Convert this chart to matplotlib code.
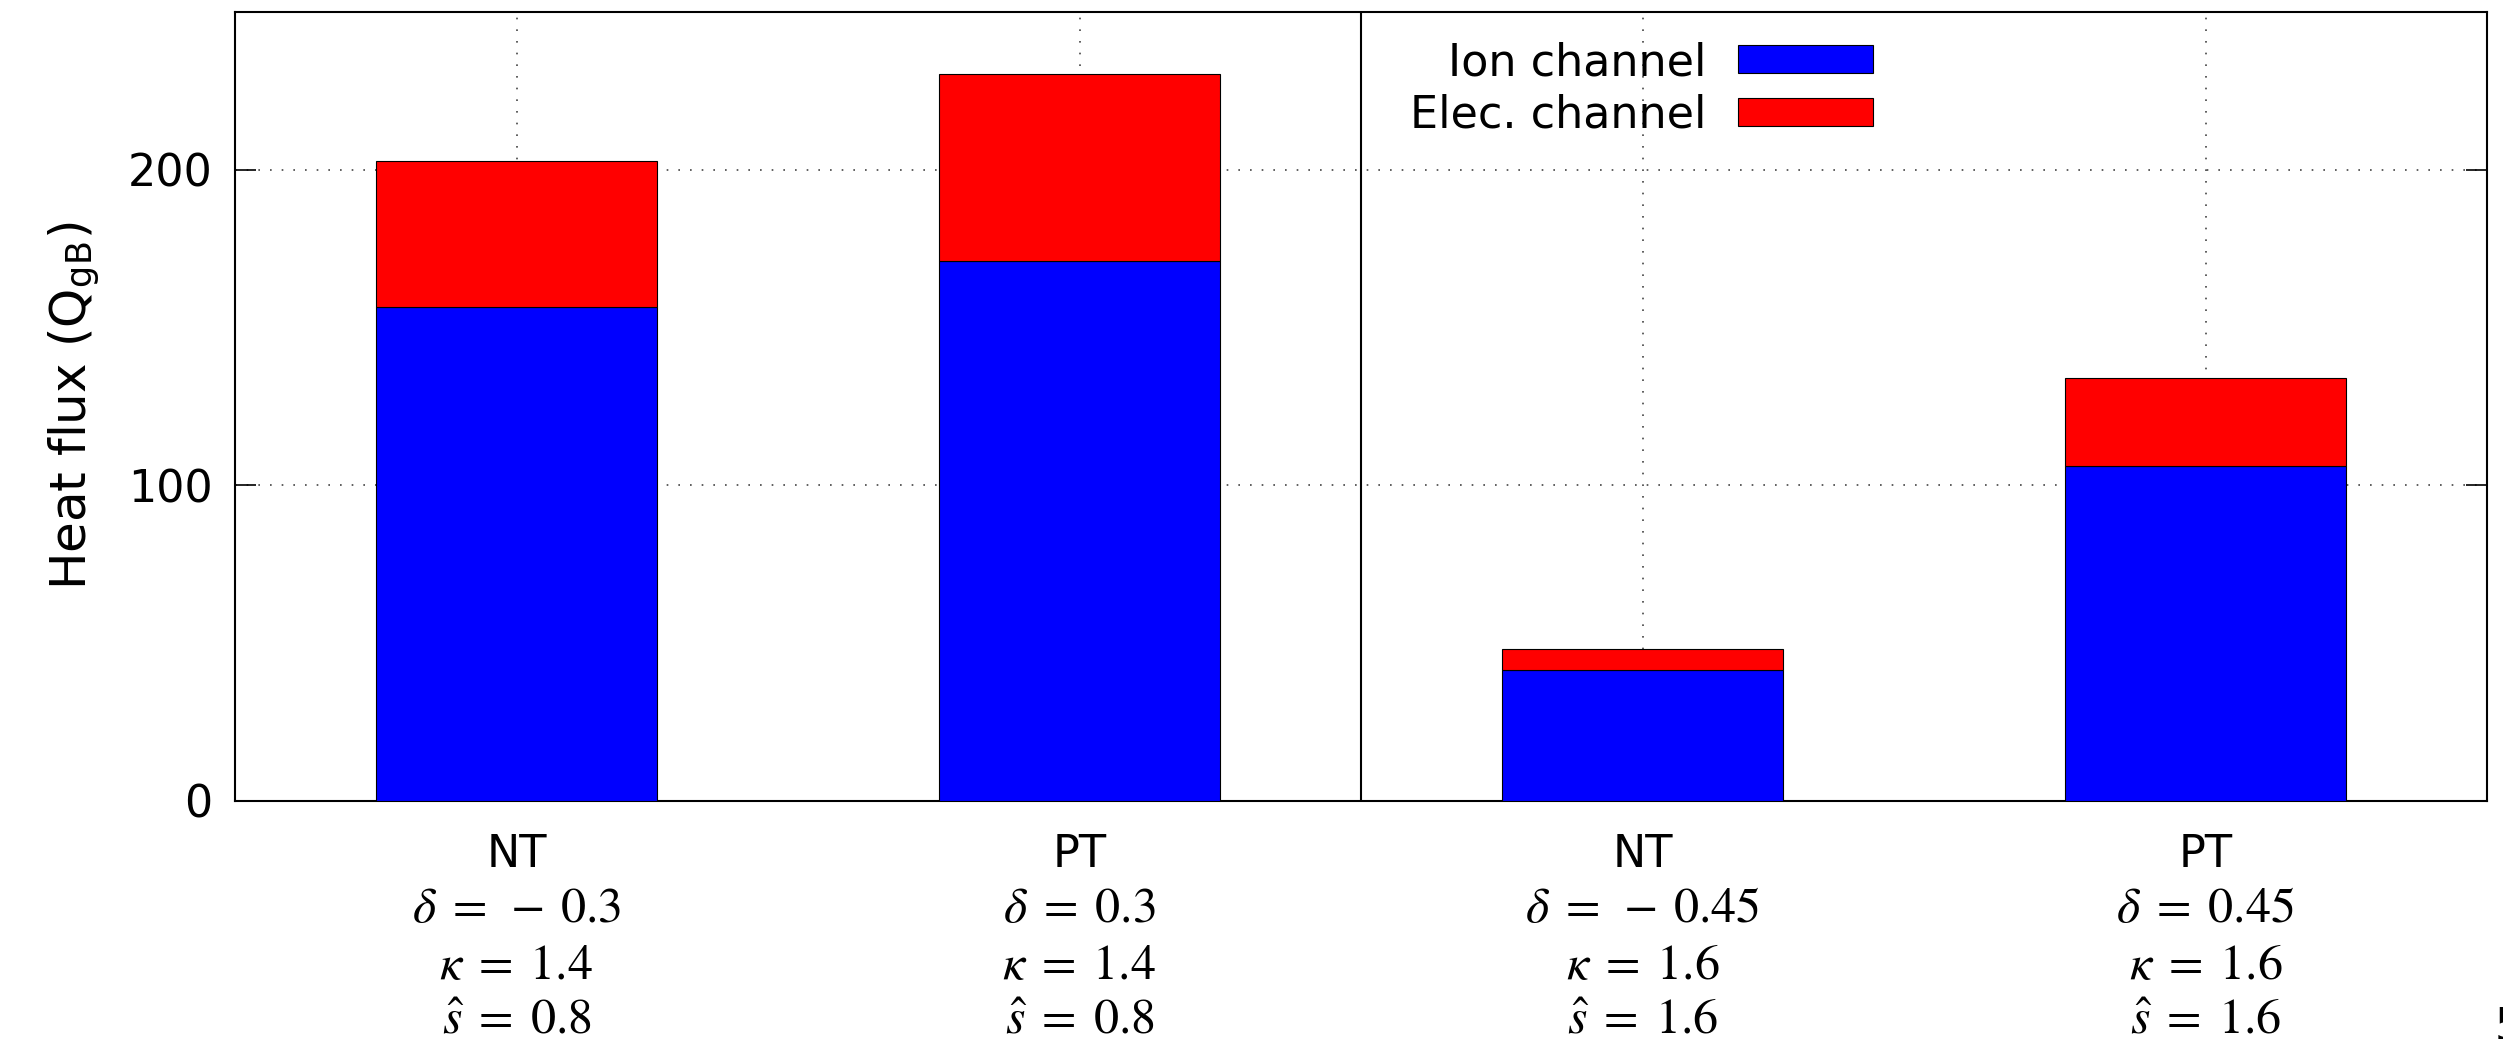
import matplotlib
matplotlib.use("Agg")
import matplotlib.pyplot as plt
from matplotlib import transforms

# heat flux per case
cases = ["NT", "PT", "NT", "PT"]
delta = ["-0.3", "0.3", "-0.45", "0.45"]
kappa = ["1.4", "1.4", "1.6", "1.6"]
shear = ["0.8", "0.8", "1.6", "1.6"]
ion_flux = [156.4, 170.9, 41.5, 105.9]
elec_flux = [46.3, 59.6, 6.6, 27.9]
y_ticks = [0, 100, 200]

plt.rcParams["font.family"] = ["DejaVu Sans"]
plt.rcParams["mathtext.fontset"] = "stix"

W, H = 2503, 1039
fig = plt.figure(figsize=(W / 100, H / 100), dpi=100)
ax = fig.add_axes([235 / W, 1 - 800.5 / H, (2487 - 235) / W, (800.5 - 12) / H])

pos = list(range(len(cases)))
ax.bar(pos, ion_flux, width=0.5, color="#0000ff", edgecolor="black",
       linewidth=0.8, label="Ion channel", zorder=3)
ax.bar(pos, elec_flux, width=0.5, bottom=ion_flux, color="#ff0000",
       edgecolor="black", linewidth=0.8, label="Elec. channel", zorder=3)

# separator between the two shaping scans
ax.axvline(1.5, color="black", linewidth=1.5, zorder=4)

ax.set_xlim(-0.5, 3.5)
ax.set_ylim(0, 250)
ax.set_yticks(y_ticks)
ax.set_xticks(pos)
ax.set_xticklabels([])
ax.grid(True, linestyle=(0, (1, 6)), linewidth=1.2, color="#444444", zorder=0)
ax.set_axisbelow(True)
ax.tick_params(axis="y", direction="in", length=15, width=1.2, left=True,
               right=True, labelsize=32, pad=16)
ax.tick_params(axis="x", length=0)
for sp in ax.spines.values():
    sp.set_linewidth(1.5)

ax.set_ylabel("Heat flux (Q$_\\mathregular{gB}$)", fontsize=36, labelpad=19)

# multi-line x labels, one text per line
trans = transforms.blended_transform_factory(ax.transData, fig.transFigure)
for i in pos:
    ax.text(i, 1 - 867 / H, cases[i], transform=trans, ha="center",
            va="baseline", fontsize=32)
    d = delta[i]
    if d.startswith("-"):
        dtxt = r"$\delta\;=\;-\:" + d[1:] + "$"
    else:
        dtxt = r"$\delta\;=\;" + d + "$"
    ax.text(i, 1 - 922 / H, dtxt, transform=trans, ha="center",
            va="baseline", fontsize=36)
    ax.text(i, 1 - 979 / H, r"$\kappa\;=\;" + kappa[i] + "$", transform=trans,
            ha="center", va="baseline", fontsize=36)
    ax.text(i, 1 - 1034 / H, r"$\hat{s}\;=\;" + shear[i] + "$",
            transform=trans, ha="center", va="baseline", fontsize=36)

leg = ax.legend(loc="upper right", bbox_to_anchor=(1873 / W, 1 - 41 / H),
                bbox_transform=fig.transFigure, frameon=False, fontsize=32,
                markerfirst=False, handlelength=3.04, handleheight=0.59,
                handletextpad=0.72, labelspacing=0.22, borderpad=0,
                borderaxespad=0)

# page number cut by the edge
fig.text(2495 / W, 1 - 1005 / H, "5", fontsize=32, ha="left", va="top")

fig.savefig("out.png", dpi=100)
